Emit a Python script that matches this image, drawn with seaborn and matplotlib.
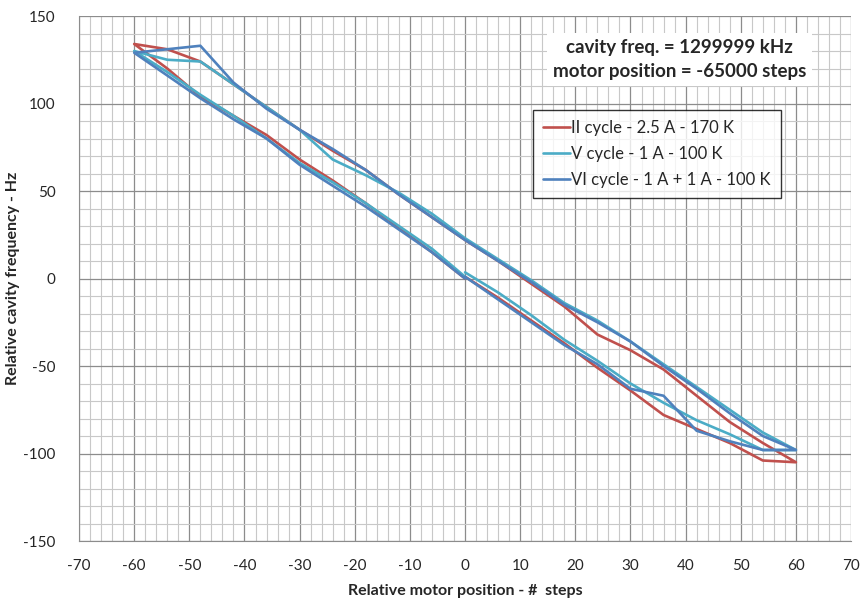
import numpy as np
import pandas as pd
import matplotlib
matplotlib.use("Agg")
import matplotlib.pyplot as plt
import seaborn as sns
from matplotlib.ticker import MultipleLocator

# each cycle starts at 0, goes to +60, back to -60, then returns to 0
steps = [0, 6, 12, 18, 24, 30, 36, 42, 48, 54, 60,
         54, 48, 42, 36, 30, 24, 18, 12, 6, 0, -6, -12, -18, -24, -30, -36, -42, -48, -54, -60,
         -54, -48, -42, -36, -30, -24, -18, -12, -6, 0]

freq_ii = [1, -11, -24, -37, -51, -64, -78, -86, -94, -104, -105,
           -94, -82, -67, -52, -41, -32, -16, -3, 10, 22, 35, 48, 62, 73, 85, 98, 111, 124, 131, 134,
           120, 104, 93, 82, 68, 56, 43, 29, 15, 0]
freq_v = [3.5, -8, -21, -35, -47, -60, -71, -81, -89, -98, -98,
          -88, -75, -62, -49, -36, -24, -14, -1, 11, 23, 37, 49, 59, 68, 85, 98, 111, 124, 125, 130,
          118, 105, 93, 80, 66, 55, 43, 30, 17, 1]
freq_vi = [1, -12, -25, -38, -49, -63, -67, -87, -93, -98, -98,
           -90, -77, -63, -50, -36, -25, -15, -2, 10, 22, 35, 48, 62, 74, 85, 97, 112, 133, 131, 129,
           116, 103, 91, 80, 65, 53, 41, 28, 15, 0]

labels = ["II cycle - 2.5 A - 170 K", "V cycle - 1 A - 100 K", "VI cycle - 1 A + 1 A - 100 K"]
colors = ["#C0504D", "#4BACC6", "#4F81BD"]

df = pd.concat([
    pd.DataFrame({"step": steps, "freq": f, "cycle": lab})
    for f, lab in zip([freq_ii, freq_v, freq_vi], labels)
])

sns.set_style("white")
plt.rcParams["font.family"] = ["Lato", "DejaVu Sans"]
plt.rcParams["axes.unicode_minus"] = False

fig = plt.figure(figsize=(8.62, 6.04), dpi=100)
ax = fig.add_axes([0.0917, 0.1043, 0.8956, 0.8692])

sns.lineplot(data=df, x="step", y="freq", hue="cycle", units="cycle", estimator=None,
             sort=False, palette=dict(zip(labels, colors)), linewidth=1.9, ax=ax)

ax.set_xlim(-70, 70)
ax.set_ylim(-150, 150)
ax.xaxis.set_major_locator(MultipleLocator(10))
ax.xaxis.set_minor_locator(MultipleLocator(2))
ax.yaxis.set_major_locator(MultipleLocator(50))
ax.yaxis.set_minor_locator(MultipleLocator(10))
ax.grid(which="major", color="#8c8c8c", linewidth=0.9)
ax.grid(which="minor", color="#c8c8c8", linewidth=0.8)
ax.set_axisbelow(True)
for side in ["top", "right"]:
    ax.spines[side].set_visible(False)
for side in ["left", "bottom"]:
    ax.spines[side].set_color("#8c8c8c")
ax.tick_params(which="major", direction="out", length=5, color="#8c8c8c", labelsize=11)
ax.tick_params(axis="x", which="major", pad=8)
ax.tick_params(axis="y", which="major", pad=12)
ax.tick_params(which="minor", length=0)

ax.set_xlabel("Relative motor position - #  steps", fontsize=11.5, fontweight="bold", labelpad=8)
ax.set_ylabel("Relative cavity frequency - Hz", fontsize=11.5, fontweight="bold", labelpad=2)
ax.yaxis.set_label_coords(-0.076, 0.5)

ax.text(0.778, 0.917, "cavity freq. = 1299999 kHz\nmotor position = -65000 steps",
        transform=ax.transAxes, ha="center", va="center", fontsize=13.5,
        fontweight="bold", linespacing=1.55,
        bbox=dict(facecolor="white", edgecolor="none", pad=4))

leg = ax.legend(loc="upper left", bbox_to_anchor=(0.588, 0.821), borderaxespad=0,
                fontsize=12, frameon=True, fancybox=False, handlelength=1.6,
                handletextpad=0.1, borderpad=0.6, labelspacing=0.6)
leg.get_frame().set_edgecolor("black")
leg.get_frame().set_linewidth(1.0)

fig.savefig("out.png", dpi=100)
